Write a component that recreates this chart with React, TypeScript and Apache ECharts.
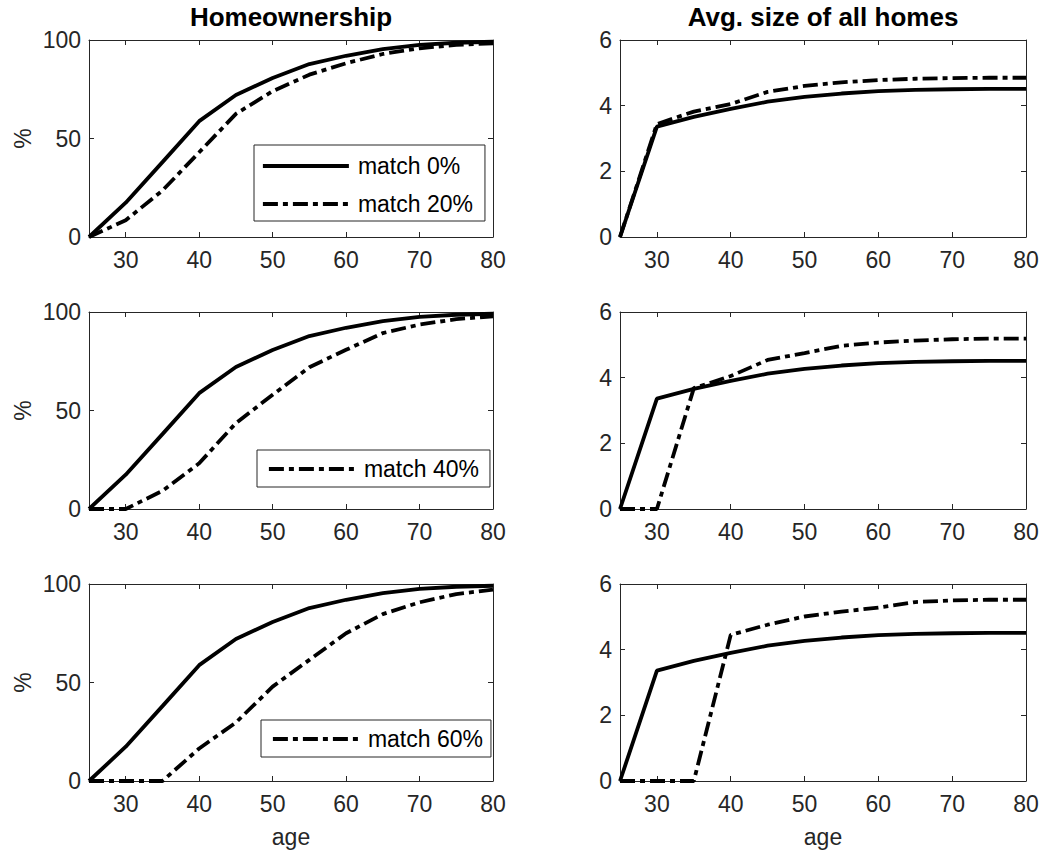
import React, { useEffect, useRef } from "react";
import * as echarts from "echarts";

// Age grid shared by every panel
const AGES = [25, 30, 35, 40, 45, 50, 55, 60, 65, 70, 75, 80];
const AGE_TICKS = [30, 40, 50, 60, 70, 80];

// Homeownership rate (%) by age
const OWN_MATCH0 = [0, 17.4, 38, 58.8, 72.1, 80.7, 87.8, 92, 95.4, 97.5, 98.6, 99.1];
const OWN_MATCH20 = [0, 8.5, 23.6, 43, 62.5, 74, 82.4, 88.2, 92.9, 95.8, 97.5, 98.3];
const OWN_MATCH40 = [0, 0, 9.2, 23.2, 43.6, 58, 72, 80.8, 89.3, 93.6, 96.4, 97.8];
const OWN_MATCH60 = [0, 0, 0, 16.5, 29.7, 47.9, 61.5, 75, 84.7, 90.7, 94.9, 97.1];

// Average size of all homes by age
const SIZE_MATCH0 = [0, 3.36, 3.66, 3.9, 4.12, 4.27, 4.37, 4.44, 4.48, 4.5, 4.51, 4.51];
const SIZE_MATCH20 = [0, 3.44, 3.82, 4.05, 4.42, 4.6, 4.71, 4.78, 4.82, 4.84, 4.85, 4.85];
const SIZE_MATCH40 = [0, 0, 3.68, 4.05, 4.54, 4.75, 4.97, 5.07, 5.13, 5.17, 5.19, 5.19];
const SIZE_MATCH60 = [0, 0, 0, 4.45, 4.76, 5.01, 5.16, 5.28, 5.45, 5.5, 5.52, 5.52];

const COLUMN_TITLES = ["Homeownership", "Avg. size of all homes"];
const NAME_BASE = "match 0%";
const NAMES_ALT = ["match 20%", "match 40%", "match 60%"];

const FONT = "'Liberation Sans', Arial, Helvetica, sans-serif";
const AXIS_COLOR = "#262626";
const LINE_WIDTH = 3.8;
const DASH_DOT = [15, 5, 5, 5];

const ROW_TOPS = [40, 312, 584];
const ROW_HEIGHT = 197;
const COL_LEFTS = [89, 620];
const COL_WIDTHS = [404, 406];

const toPoints = (ys: number[]) => AGES.map((a, i) => [a, ys[i]]);

export default function App() {
  const ref = useRef<HTMLDivElement>(null);

  useEffect(() => {
    if (!ref.current) return;
    const chart = echarts.init(ref.current, null, { renderer: "svg" });

    const ownAlt = [OWN_MATCH20, OWN_MATCH40, OWN_MATCH60];
    const sizeAlt = [SIZE_MATCH20, SIZE_MATCH40, SIZE_MATCH60];

    const grid: any[] = [];
    const xAxis: any[] = [];
    const yAxis: any[] = [];
    const series: any[] = [];

    const axisLine = { show: true, onZero: false, lineStyle: { color: AXIS_COLOR, width: 1 } };
    const tickLine = { color: AXIS_COLOR, width: 1 };
    const labelStyle = { color: AXIS_COLOR, fontSize: 23, fontFamily: FONT };

    let idx = 0;
    for (let row = 0; row < 3; row++) {
      for (let col = 0; col < 2; col++) {
        grid.push({
          left: COL_LEFTS[col],
          top: ROW_TOPS[row],
          width: COL_WIDTHS[col],
          height: ROW_HEIGHT,
          containLabel: false,
        });
        const isOwn = col === 0;
        const yMax = isOwn ? 100 : 6;
        const yInterval = isOwn ? 50 : 2;

        // bottom and top x axes (box with inward ticks)
        xAxis.push({
          type: "value",
          gridIndex: idx,
          position: "bottom",
          min: 25,
          max: 80,
          axisLine,
          axisTick: { show: true, inside: true, length: 5, customValues: AGE_TICKS, lineStyle: tickLine },
          axisLabel: { show: true, customValues: AGE_TICKS, margin: 11, ...labelStyle },
          splitLine: { show: false },
          name: row === 2 ? "age" : "",
          nameLocation: "middle",
          nameGap: 44,
          nameTextStyle: { color: AXIS_COLOR, fontSize: 23, fontFamily: FONT },
        });
        xAxis.push({
          type: "value",
          gridIndex: idx,
          position: "top",
          min: 25,
          max: 80,
          axisLine,
          axisTick: { show: true, inside: true, length: 5, customValues: AGE_TICKS, lineStyle: tickLine },
          axisLabel: { show: false },
          splitLine: { show: false },
        });
        // left and right y axes
        yAxis.push({
          type: "value",
          gridIndex: idx,
          position: "left",
          min: 0,
          max: yMax,
          interval: yInterval,
          axisLine,
          axisTick: { show: true, inside: true, length: 5, lineStyle: tickLine },
          axisLabel: { show: true, margin: 8, ...labelStyle },
          splitLine: { show: false },
          name: isOwn ? "%" : "",
          nameLocation: "middle",
          nameRotate: 90,
          nameGap: 55,
          nameTextStyle: { color: AXIS_COLOR, fontSize: 23, fontFamily: FONT },
        });
        yAxis.push({
          type: "value",
          gridIndex: idx,
          position: "right",
          min: 0,
          max: yMax,
          interval: yInterval,
          axisLine,
          axisTick: { show: true, inside: true, length: 5, lineStyle: tickLine },
          axisLabel: { show: false },
          splitLine: { show: false },
        });

        const baseData = isOwn ? OWN_MATCH0 : SIZE_MATCH0;
        const altData = isOwn ? ownAlt[row] : sizeAlt[row];
        series.push({
          type: "line",
          name: NAME_BASE,
          xAxisIndex: idx * 2,
          yAxisIndex: idx * 2,
          data: toPoints(baseData),
          symbol: "none",
          silent: true,
          lineStyle: { color: "#000", width: LINE_WIDTH, type: "solid" },
          itemStyle: { color: "#000" },
        });
        series.push({
          type: "line",
          name: NAMES_ALT[row],
          xAxisIndex: idx * 2,
          yAxisIndex: idx * 2,
          data: toPoints(altData),
          symbol: "none",
          silent: true,
          lineStyle: { color: "#000", width: LINE_WIDTH, type: DASH_DOT },
          itemStyle: { color: "#000" },
        });
        idx++;
      }
    }

    const legendBase = {
      orient: "vertical",
      selectedMode: false,
      itemWidth: 86,
      itemHeight: 2,
      itemGap: 12,
      backgroundColor: "#fff",
      borderColor: AXIS_COLOR,
      borderWidth: 1,
      borderRadius: 0,
      lineStyle: { width: LINE_WIDTH, color: "#000" },
      textStyle: { color: "#000", fontSize: 23, fontFamily: FONT, lineHeight: 26, padding: [0, 0, 0, 4] },
    };

    const titles = COLUMN_TITLES.map((t, col) => ({
      text: t,
      left: COL_LEFTS[col] + COL_WIDTHS[col] / 2,
      top: 4,
      padding: 0,
      textAlign: "center",
      textStyle: { color: "#000", fontSize: 26, fontWeight: "bold", fontFamily: FONT },
    }));

    chart.setOption({
      animation: false,
      backgroundColor: "#fff",
      title: titles,
      grid,
      xAxis,
      yAxis,
      series,
      legend: [
        { ...legendBase, data: [NAME_BASE, NAMES_ALT[0]], left: 254, top: 145, padding: [8, 12, 4, 7] },
        { ...legendBase, data: [NAMES_ALT[1]], left: 257, top: 450, padding: [6, 11, 5, 10] },
        { ...legendBase, data: [NAMES_ALT[2]], left: 261, top: 720, padding: [6, 8, 5, 10] },
      ],
    });

    return () => chart.dispose();
  }, []);

  return (
    <div
      ref={ref}
      style={{ position: "fixed", left: 0, top: 0, width: 1044, height: 859, background: "#fff" }}
    />
  );
}
